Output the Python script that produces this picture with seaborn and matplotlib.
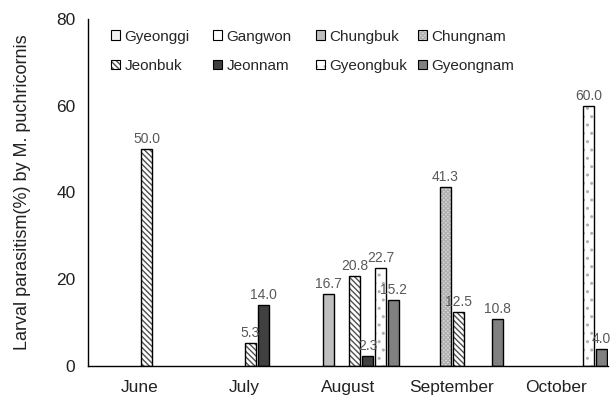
import matplotlib
matplotlib.use('Agg')

import numpy as np
import pandas as pd
import matplotlib.pyplot as plt
import seaborn as sns
from matplotlib.patches import Patch
from matplotlib.colors import to_rgba

sns.set_theme(style="white")
plt.rcParams['font.family'] = ['Liberation Sans', 'DejaVu Sans']
plt.rcParams['hatch.linewidth'] = 1.0

months = ['June', 'July', 'August', 'September', 'October']
regions = ['Gyeonggi', 'Gangwon', 'Chungbuk', 'Chungnam',
           'Jeonbuk', 'Jeonnam', 'Gyeongbuk', 'Gyeongnam']

# parasitism (%) per month, only where a bar is shown
bar_month = ['June', 'July', 'July',
             'August', 'August', 'August', 'August', 'August',
             'September', 'September', 'September',
             'October', 'October']
bar_region = ['Jeonbuk', 'Jeonbuk', 'Jeonnam',
              'Chungbuk', 'Jeonbuk', 'Jeonnam', 'Gyeongbuk', 'Gyeongnam',
              'Chungnam', 'Jeonbuk', 'Gyeongnam',
              'Gyeongbuk', 'Gyeongnam']
bar_value = [50.0, 5.3, 14.0,
             16.7, 20.8, 2.3, 22.7, 15.2,
             41.3, 12.5, 10.8,
             60.0, 4.0]

df = pd.DataFrame({'month': bar_month, 'region': bar_region, 'value': bar_value})

fills = {'Gyeonggi': '#f2f2f2', 'Gangwon': '#ffffff', 'Chungbuk': '#bfbfbf',
         'Chungnam': '#dcdcdc', 'Jeonbuk': '#ffffff', 'Jeonnam': '#404040',
         'Gyeongbuk': '#ffffff', 'Gyeongnam': '#808080'}
hatches = {'Chungnam': 'xxxxxxxx', 'Jeonbuk': '\\\\\\\\\\\\', 'Gyeongbuk': '..'}
hatch_cols = {'Chungnam': '#b0b0b0', 'Jeonbuk': '#505050', 'Gyeongbuk': '#b0b0b0'}

fig = plt.figure(figsize=(6.15, 3.96), dpi=100)
ax = fig.add_axes([88 / 615, 30 / 396, 520 / 615, 347 / 396])

sns.barplot(data=df, x='month', y='value', hue='region', order=months,
            hue_order=regions, palette=fills, width=1.0, gap=0.23,
            edgecolor='black', linewidth=1.0, errorbar=None, legend=False, ax=ax)

# find each bar's region from its slot inside the month group
n = len(regions)
for p in ax.patches:
    xc = p.get_x() + p.get_width() / 2
    slot = int(round((xc - round(xc)) * n + (n - 1) / 2))
    reg = regions[slot]
    if reg in hatches:
        p.set_hatch(hatches[reg])
        p.set_edgecolor('black')
        p._hatch_color = to_rgba(hatch_cols[reg])

for c in ax.containers:
    ax.bar_label(c, fmt='%.1f', padding=2, fontsize=10, color='#595959')

ax.set_xlim(-0.5, len(months) - 0.5)
ax.set_ylim(0, 80)
ax.set_yticks([0, 20, 40, 60, 80])
ax.set_xlabel('')
ax.set_ylabel('Larval parasitism(%) by M. puchricornis', fontsize=13, color='#222222')
ax.yaxis.set_label_coords(-0.11, 0.5)

ax.set_xticks(np.arange(len(months)))
ax.set_xticklabels(months)
ax.set_xticks(np.arange(len(months) + 1) - 0.5, minor=True)
ax.tick_params(axis='x', which='major', length=0, pad=10, labelsize=12.5, colors='#222222')
ax.tick_params(axis='x', which='minor', length=5, width=1, direction='out', color='black')
ax.tick_params(axis='y', length=5, width=1, direction='out', labelsize=12.5,
               colors='#222222', pad=4)
ax.tick_params(axis='y', color='black')

sns.despine(ax=ax)
for s in ['left', 'bottom']:
    ax.spines[s].set_color('black')
    ax.spines[s].set_linewidth(1.0)

# one small legend per column so the columns sit at even spacing
col_x = [103, 205, 308, 410]
for j, x0 in enumerate(col_x):
    regs = [regions[j], regions[j + 4]]
    handles = [Patch(facecolor=fills[r], edgecolor='black', linewidth=0.8,
                     hatch=hatches.get(r)) for r in regs]
    leg = fig.legend(handles, regs, loc='upper left',
                     bbox_to_anchor=(x0 / 615, 1 - 22 / 396), frameon=False,
                     fontsize=11, handlelength=0.6, handleheight=0.6,
                     handletextpad=0.3, labelspacing=1.0, borderpad=0)
    for h, r in zip(leg.legend_handles, regs):
        if r in hatch_cols:
            h._hatch_color = to_rgba(hatch_cols[r])

fig.savefig('out.png', dpi=100)
